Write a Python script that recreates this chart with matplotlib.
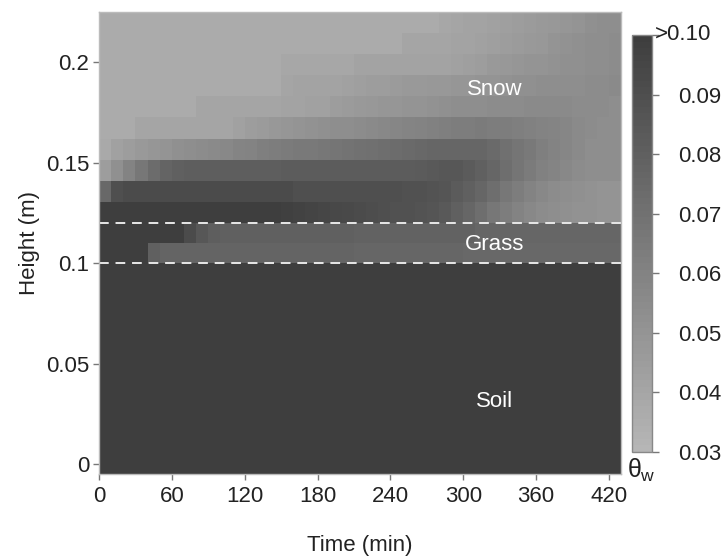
import numpy as np
import matplotlib
matplotlib.use('Agg')
import matplotlib.pyplot as plt
from matplotlib.colors import LinearSegmentedColormap
from matplotlib.transforms import offset_copy

plt.rcParams['font.family'] = ['Liberation Sans', 'DejaVu Sans']
plt.rcParams['mathtext.fontset'] = 'custom'
plt.rcParams['mathtext.rm'] = 'Liberation Sans'
plt.rcParams['mathtext.it'] = 'Liberation Sans'

# ---------------- data ----------------
time_edges = list(range(0, 440, 10))          # min, 43 columns of 10 min
layer_edges = [-0.005, 0.10, 0.11, 0.12, 0.1305, 0.141, 0.1515, 0.162,
               0.1725, 0.183, 0.1935, 0.204, 0.2145, 0.225]   # m

soil = [0.12] * 43
grass1 = [0.100] * 4 + [0.080] + [0.078] * 16 + [0.076] * 9 + [0.075] * 13
grass2 = [0.100] * 7 + [0.092, 0.085, 0.081] + [0.080] * 11 + [0.079] * 10 + [0.077] * 12
snow1 = [0.100] * 13 + [0.099, 0.099, 0.098, 0.097, 0.096, 0.095, 0.094, 0.093, 0.092, 0.091,
                       0.090, 0.089, 0.088, 0.087, 0.086, 0.084, 0.080, 0.076, 0.072, 0.067,
                       0.063, 0.060, 0.057, 0.055, 0.053, 0.052, 0.051, 0.051, 0.050, 0.050]
snow2 = [0.075, 0.090] + [0.092] * 14 + [0.090] * 9 + [0.089, 0.088, 0.087, 0.086, 0.083, 0.080,
                                                      0.076, 0.072, 0.067, 0.063, 0.060, 0.057,
                                                      0.055, 0.053, 0.052, 0.051, 0.050, 0.050]
snow3 = [0.045, 0.052, 0.060, 0.067, 0.073, 0.078, 0.080] + [0.081] * 8 + [0.082] * 11 + \
        [0.083, 0.084, 0.085, 0.085, 0.083, 0.080, 0.077, 0.072, 0.068, 0.064, 0.061, 0.059,
         0.057, 0.055, 0.054, 0.053, 0.053]
snow4 = [0.038, 0.043, 0.045, 0.047, 0.049, 0.050, 0.052, 0.053, 0.055, 0.056, 0.057, 0.059,
         0.060, 0.062, 0.063, 0.064, 0.065, 0.066, 0.067, 0.068, 0.069, 0.070, 0.071, 0.072,
         0.073, 0.074, 0.075, 0.076, 0.076, 0.077, 0.077, 0.076, 0.074, 0.071, 0.068, 0.065,
         0.062, 0.060, 0.058, 0.056, 0.054, 0.053, 0.053]
snow5 = [0.037] * 3 + [0.040] * 8 + [0.043, 0.045, 0.046, 0.048, 0.049, 0.050, 0.051, 0.052,
                                    0.053, 0.054, 0.055, 0.056, 0.057, 0.058, 0.059, 0.060,
                                    0.061, 0.062, 0.063, 0.063, 0.064, 0.063, 0.063, 0.062,
                                    0.061, 0.060, 0.059, 0.058, 0.056, 0.055, 0.054, 0.053]
snow6 = [0.037] * 8 + [0.040] * 7 + [0.042, 0.042, 0.043, 0.043, 0.045, 0.046, 0.047, 0.048,
                                    0.049, 0.049, 0.050, 0.050, 0.051, 0.052, 0.053, 0.054,
                                    0.054, 0.055, 0.055, 0.055, 0.056, 0.056, 0.056, 0.056,
                                    0.055, 0.055, 0.055, 0.054]
snow7 = [0.037] * 15 + [0.040, 0.041, 0.041, 0.042, 0.042, 0.043, 0.044, 0.045, 0.045, 0.046,
                        0.047, 0.047, 0.048, 0.048, 0.049, 0.049, 0.050, 0.050, 0.051, 0.052,
                        0.052, 0.053, 0.053, 0.054, 0.054, 0.055, 0.055, 0.056]
snow8 = [0.037] * 15 + [0.039] * 6 + [0.042] * 8 + [0.043, 0.044, 0.045, 0.047, 0.048, 0.049,
                                                   0.050, 0.050, 0.051, 0.052, 0.052, 0.053,
                                                   0.054, 0.055]
snow9 = [0.037] * 25 + [0.040] * 4 + [0.041, 0.042, 0.043, 0.044, 0.045, 0.046, 0.047, 0.048,
                                     0.050, 0.051, 0.052, 0.053, 0.054, 0.055]
snow10 = [0.037] * 28 + [0.039, 0.040, 0.041, 0.042, 0.043, 0.044, 0.045, 0.046, 0.047, 0.048,
                         0.049, 0.050, 0.052, 0.053, 0.053]

theta = np.array([soil, grass1, grass2, snow1, snow2, snow3, snow4, snow5,
                  snow6, snow7, snow8, snow9, snow10])

xticks = [0, 60, 120, 180, 240, 300, 360, 420]
yticks = [0, 0.05, 0.1, 0.15, 0.2]
ytick_labels = ['0', '0.05', '0.1', '0.15', '0.2']
cb_ticks = [0.03, 0.04, 0.05, 0.06, 0.07, 0.08, 0.09, 0.10]
cb_labels = ['0.03', '0.04', '0.05', '0.06', '0.07', '0.08', '0.09', '']
layer_lines = [0.10, 0.12]

# ---------------- figure ----------------
W, H = 721, 558
FS = 16
fig = plt.figure(figsize=(W / 100, H / 100), dpi=100)
ax = fig.add_axes([99 / W, (H - 474) / H, 522 / W, 462 / H])

cmap = LinearSegmentedColormap.from_list('gr', ['#b6b6b6', '#3e3e3e'], N=64)
mesh = ax.pcolormesh(time_edges, layer_edges, theta, cmap=cmap, vmin=0.03, vmax=0.10,
                     shading='flat')

for yl in layer_lines:
    ax.axhline(yl, color='#e8e8e8', lw=1.4, ls=(0, (5, 3.5)))

ax.text(326, 0.1866, 'Snow', color='white', fontsize=FS, ha='center', va='center')
ax.text(326, 0.1093, 'Grass', color='white', fontsize=FS, ha='center', va='center')
ax.text(326, 0.0313, 'Soil', color='white', fontsize=FS, ha='center', va='center')

ax.set_xlim(0, 430)
ax.set_ylim(-0.005, 0.225)
ax.set_xticks(xticks)
ax.set_yticks(yticks)
ax.set_yticklabels(ytick_labels)
ax.tick_params(axis='both', direction='out', length=4, width=1, color='#777777',
               labelsize=FS, labelcolor='#222222')
ax.tick_params(axis='y', pad=3)
ax.tick_params(axis='x', pad=5)
for s in ax.spines.values():
    s.set_color('#bbbbbb')
    s.set_linewidth(1)
ax.set_xlabel('Time (min)', fontsize=FS, color='#222222', labelpad=20)
ax.set_ylabel('Height (m)', fontsize=FS, color='#222222', labelpad=4)

cax = fig.add_axes([632 / W, (H - 452) / H, 20 / W, 417 / H])
cb = fig.colorbar(mesh, cax=cax, ticks=cb_ticks)
cb.ax.set_yticklabels(cb_labels)
cb.outline.set_edgecolor('#888888')
cb.outline.set_linewidth(1)
cax.tick_params(direction='out', length=5, width=1, color='#777777', labelsize=FS,
                labelcolor='#222222', pad=14)
cax.text(1.0, 1.0, '>0.10', transform=offset_copy(cax.transAxes, fig, x=3, y=0, units='dots'),
         ha='left', va='center', fontsize=FS, color='#222222')
cax.text(0.45, -0.012, r'$\theta_\mathregular{w}$', transform=cax.transAxes, ha='center', va='top',
         fontsize=18, color='#222222')

fig.savefig('out.png', dpi=100)
